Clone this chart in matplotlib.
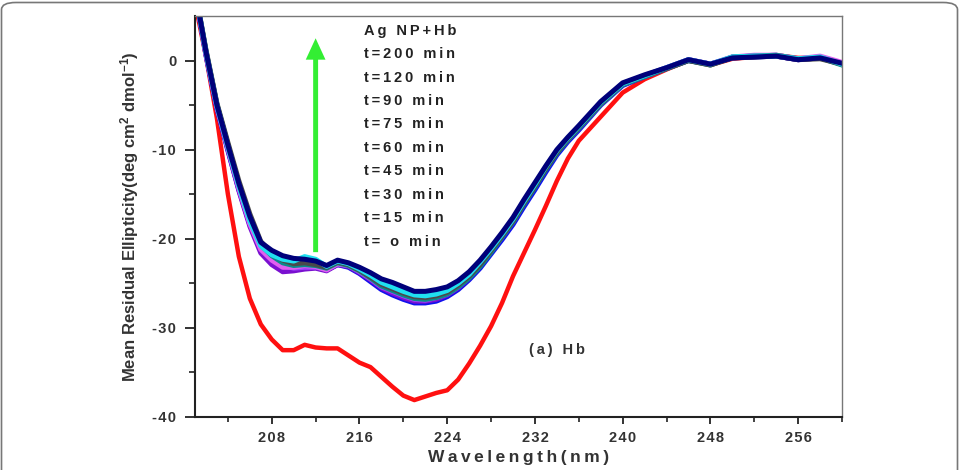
import matplotlib
matplotlib.use('Agg')
import matplotlib.pyplot as plt
from matplotlib.patches import FancyBboxPatch, FancyArrow

plt.rcParams['font.family'] = ['Liberation Sans', 'DejaVu Sans']
plt.rcParams['mathtext.fontset'] = 'custom'
plt.rcParams['mathtext.rm'] = 'Liberation Sans:bold'
plt.rcParams['mathtext.default'] = 'rm'

# wavelength grid (nm)
wl = [201, 202, 203, 204, 205, 206, 207, 208, 209, 210, 211, 212, 213, 214, 215, 216,
      217, 218, 219, 220, 221, 222, 223, 224, 225, 226, 227, 228, 229, 230, 231, 232,
      233, 234, 235, 236, 238, 240, 242, 244, 246, 248, 250, 252, 254, 256, 258, 260]

# native Hb (red)
hb = [6.5, 0.5, -6.5, -15.0, -22.0, -26.7, -29.6, -31.3, -32.5, -32.5, -31.9, -32.2, -32.3, -32.3, -33.1, -33.9,
      -34.4, -35.5, -36.6, -37.6, -38.1, -37.7, -37.3, -37.0, -35.8, -34.0, -32.0, -29.8, -27.2, -24.2, -21.6, -19.0,
      -16.3, -13.5, -11.0, -9.0, -6.3, -3.6, -2.1, -1.0, 0.0, -0.5, 0.2, 0.4, 0.6, 0.3, 0.3, -0.3]

# Ag NP + Hb, time series
blue = [7.7, 0.6, -5.4, -10.1, -14.5, -18.4, -21.3, -22.6, -23.2, -23.3, -23.2, -23.2, -23.5, -22.9, -23.2, -23.9,
        -24.8, -25.7, -26.3, -26.8, -27.2, -27.2, -27.0, -26.5, -25.7, -24.6, -23.3, -21.7, -20.1, -18.4, -16.4, -14.5,
        -12.5, -10.6, -9.1, -7.8, -5.0, -2.8, -1.8, -0.9, 0.0, -0.4, 0.3, 0.4, 0.5, 0.1, 0.3, -0.4]
purple = [7.7, 0.7, -5.3, -10.0, -14.6, -18.6, -21.6, -22.9, -23.7, -23.6, -23.4, -23.3, -23.6, -22.9, -23.1, -23.8,
          -24.6, -25.5, -26.1, -26.6, -27.0, -27.0, -26.8, -26.3, -25.5, -24.4, -23.0, -21.4, -19.8, -18.1, -16.0, -14.1,
          -12.1, -10.3, -8.9, -7.6, -4.9, -2.7, -1.8, -0.9, 0.1, -0.4, 0.3, 0.5, 0.5, 0.1, 0.3, -0.3]
violet = [7.8, 0.9, -5.1, -9.6, -14.2, -18.2, -21.0, -22.3, -23.0, -23.3, -23.2, -23.2, -23.4, -22.8, -23.0, -23.7,
          -24.5, -25.4, -25.9, -26.4, -26.8, -26.9, -26.6, -26.2, -25.4, -24.3, -22.9, -21.3, -19.6, -17.9, -15.9, -14.0,
          -12.0, -10.2, -8.8, -7.5, -4.8, -2.6, -1.7, -0.8, 0.1, -0.4, 0.4, 0.5, 0.6, 0.2, 0.4, -0.3]
magenta = [7.8, 0.8, -5.2, -9.8, -14.3, -18.3, -21.2, -22.4, -23.2, -23.2, -23.0, -23.1, -23.5, -22.8, -23.0, -23.6,
           -24.4, -25.2, -25.7, -26.2, -26.6, -26.7, -26.5, -26.1, -25.3, -24.3, -22.9, -21.3, -19.7, -18.0, -15.9, -14.0,
           -12.0, -10.2, -8.8, -7.5, -4.8, -2.6, -1.7, -0.8, 0.1, -0.4, 0.4, 0.6, 0.6, 0.2, 0.5, -0.2]
teal = [7.9, 1.1, -4.9, -9.4, -13.9, -17.8, -20.7, -21.9, -22.7, -23.0, -22.9, -23.0, -23.3, -22.7, -23.0, -23.6,
        -24.4, -25.3, -25.8, -26.3, -26.7, -26.8, -26.6, -26.2, -25.4, -24.4, -23.1, -21.5, -19.8, -18.1, -16.1, -14.2,
        -12.2, -10.4, -8.9, -7.6, -4.9, -2.7, -1.8, -0.9, 0.0, -0.5, 0.4, 0.5, 0.6, 0.2, 0.3, -0.5]
gray = [7.9, 1.2, -4.8, -9.2, -13.5, -17.2, -20.3, -21.6, -22.4, -22.8, -22.7, -22.9, -23.2, -22.6, -22.9, -23.5,
        -24.3, -25.1, -25.6, -26.1, -26.5, -26.6, -26.4, -26.0, -25.2, -24.2, -22.9, -21.3, -19.7, -18.0, -16.0, -14.1,
        -12.1, -10.3, -8.8, -7.5, -4.8, -2.6, -1.7, -0.9, 0.0, -0.5, 0.3, 0.4, 0.5, 0.1, 0.2, -0.4]
cyan = [7.8, 0.9, -5.1, -9.7, -14.1, -18.0, -20.8, -21.8, -22.3, -22.5, -22.0, -22.3, -23.1, -22.5, -22.8, -23.4,
        -24.1, -24.9, -25.4, -25.9, -26.3, -26.4, -26.2, -25.8, -25.0, -24.0, -22.6, -21.1, -19.5, -17.8, -15.8, -13.9,
        -11.9, -10.1, -8.7, -7.4, -4.7, -2.6, -1.7, -0.8, 0.1, -0.4, 0.4, 0.5, 0.5, 0.2, 0.4, -0.4]
navy = [7.9, 1.0, -5.0, -9.5, -13.8, -17.5, -20.4, -21.3, -21.9, -22.2, -22.3, -22.5, -23.0, -22.4, -22.7, -23.2,
        -23.8, -24.5, -24.9, -25.4, -25.9, -25.9, -25.7, -25.4, -24.7, -23.7, -22.4, -20.9, -19.3, -17.6, -15.6, -13.7,
        -11.8, -10.0, -8.6, -7.3, -4.6, -2.5, -1.6, -0.8, 0.1, -0.4, 0.3, 0.4, 0.5, 0.1, 0.3, -0.3]

labels = ['Ag NP+Hb', 't=200 min', 't=120 min', 't=90 min', 't=75 min', 't=60 min',
          't=45 min', 't=30 min', 't=15 min', 't= o min']

series = [(blue, '#1010ee'), (purple, '#7a10d0'), (violet, '#a040ff'), (magenta, '#e060f0'),
          (teal, '#0a8a8a'), (gray, '#4a4a4a'), (cyan, '#20e0f0'), (navy, '#00007a')]


def spaced(s, gap='\u2009'):
    return gap.join(s)


fig = plt.figure(figsize=(9.59, 4.70), dpi=100)
ax = fig.add_axes([195 / 959, 53 / 470, 647 / 959, 401 / 470])

ax.plot(wl, hb, color='#ff1010', lw=3.2, solid_joinstyle='round')
for y, c in series:
    ax.plot(wl, y, color=c, lw=3.6, solid_joinstyle='round')

ax.set_xlim(201, 260)
ax.set_ylim(-40, 5)
ax.set_xticks([208, 216, 224, 232, 240, 248, 256])
ax.set_xticks([204, 212, 220, 228, 236, 244, 252, 260], minor=True)
ax.set_yticks([-40, -30, -20, -10, 0])
ax.set_yticks([-35, -25, -15, -5], minor=True)
ax.set_xticklabels([spaced(str(v), '\u200a') for v in [208, 216, 224, 232, 240, 248, 256]])
ax.set_yticklabels([spaced(str(v), '\u200a') for v in [-40, -30, -20, -10, 0]])

for s in ['left', 'bottom']:
    ax.spines[s].set_linewidth(1.5)
    ax.spines[s].set_color('#222222')
for s in ['top', 'right']:
    ax.spines[s].set_linewidth(1.0)
    ax.spines[s].set_color('#777777')

ax.tick_params(axis='x', which='major', direction='out', length=5, width=1.3, color='#222222',
               labelsize=10.5, pad=5)
ax.tick_params(axis='x', which='minor', direction='out', length=3.5, width=1.2, color='#222222')
ax.tick_params(axis='y', which='major', direction='out', length=7.5, width=1.3, color='#222222',
               labelsize=10.5, pad=6)
ax.tick_params(axis='y', which='minor', direction='out', length=4, width=1.2, color='#222222')
for t in ax.get_xticklabels() + ax.get_yticklabels():
    t.set_fontweight('bold')
    t.set_color('#333333')

ax.set_xlabel(spaced('Wavelength(nm)'), fontsize=12.5, fontweight='bold', color='#333333', labelpad=4)
ax.set_ylabel(r'Mean Residual Ellipticity(deg cm$^{2}$ dmol$^{-1}$)', fontsize=12,
              fontweight='bold', color='#333333', labelpad=8)

# green arrow
ax.add_patch(FancyArrow(212.0, -21.5, 0, 24.0, width=0.45, head_width=1.8, head_length=2.4,
                        length_includes_head=True, color='#33ee33', ec='none'))

for i, lab in enumerate(labels):
    ax.text(216.45, 3.35 - i * 2.63, spaced(lab), fontsize=10.5, fontweight='bold',
            color='#222222', va='center', ha='left')

ax.text(231.5, -32.5, spaced('(a) Hb'), fontsize=10.5, fontweight='bold', color='#333333',
        va='center', ha='left')

frame = FancyBboxPatch((1.5 / 959, -0.1), 956 / 959, 1.1 - 2.5 / 470,
                       boxstyle='round,pad=0,rounding_size=0.015', transform=fig.transFigure,
                       fc='none', ec='#777777', lw=1.2, clip_on=False)
fig.patches.append(frame)

fig.savefig('out.png', dpi=100)
